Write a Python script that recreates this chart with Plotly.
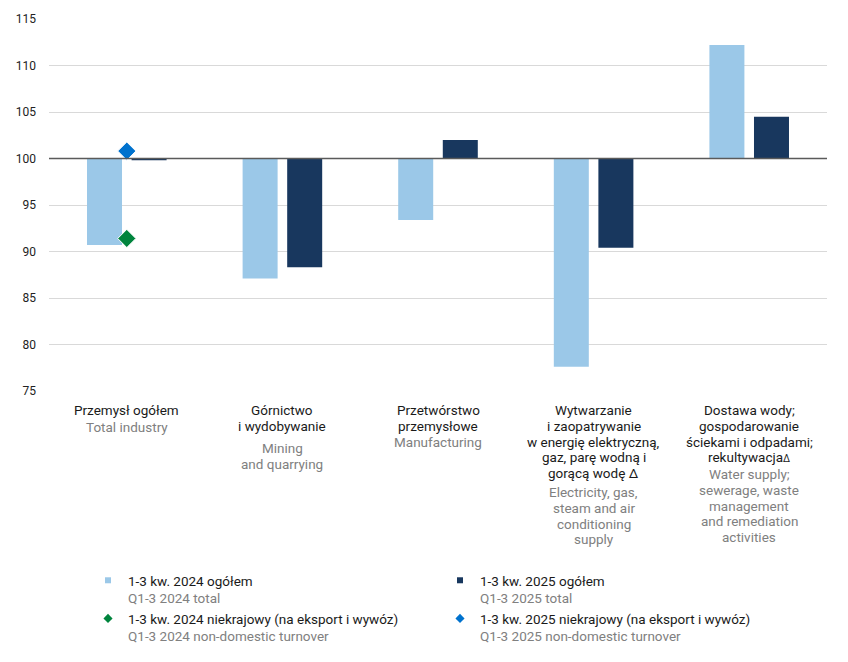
import plotly.graph_objects as go

# ---------------- data ----------------
categories = ["Przemysł ogółem", "Górnictwo", "Przetwórstwo", "Wytwarzanie", "Dostawa wody"]
total_2024 = [90.7, 87.1, 93.4, 77.6, 112.2]
total_2025 = [99.8, 88.3, 102.0, 90.4, 104.5]
nondom_2024 = [91.4, None, None, None, None]
nondom_2025 = [100.8, None, None, None, None]
base_value = 100
y_ticks = [75, 80, 85, 90, 95, 100, 105, 110, 115]

labels_pl = [
    ["Przemysł ogółem"],
    ["Górnictwo", "i wydobywanie"],
    ["Przetwórstwo", "przemysłowe"],
    ["Wytwarzanie", "i zaopatrywanie", "w energię elektryczną,", "gaz, parę wodną i", "gorącą wodę Δ"],
    ["Dostawa wody;", "gospodarowanie", "ściekami i odpadami;", "rekultywacja<span style='font-size:10px'>Δ</span>"],
]
labels_en = [
    ["Total industry"],
    ["Mining", "and quarrying"],
    ["Manufacturing"],
    ["Electricity, gas,", "steam and air", "conditioning", "supply"],
    ["Water supply;", "sewerage, waste", "management", "and remediation", "activities"],
]
legend_pl = ["1-3 kw. 2024 ogółem", "1-3 kw. 2025 ogółem",
             "1-3 kw. 2024 niekrajowy (na eksport i wywóz)", "1-3 kw. 2025 niekrajowy (na eksport i wywóz)"]
legend_en = ["Q1-3 2024 total", "Q1-3 2025 total",
             "Q1-3 2024 non-domestic turnover", "Q1-3 2025 non-domestic turnover"]

# ---------------- style ----------------
C_LIGHT = "#9BC8E8"
C_DARK = "#18375E"
C_GREEN = "#00843D"
C_BLUE = "#0072CE"
C_TEXT = "#1a1a1a"
C_GREY = "#808080"
FONT = "Roboto"

OFF = 8  # page body margin
W, H = 848 - 2 * OFF, 662 - 2 * OFF
PLOT_LEFT, PLOT_RIGHT, PLOT_TOP, PLOT_BOTTOM = 49 - OFF, 827 - OFF, 19 - OFF, 391 - OFF
ML, MR, MT, MB = PLOT_LEFT, W - PLOT_RIGHT, PLOT_TOP, H - PLOT_BOTTOM
PW, PH = PLOT_RIGHT - PLOT_LEFT, PLOT_BOTTOM - PLOT_TOP

fig = go.Figure()

fig.add_trace(go.Bar(
    x=categories, y=[v - base_value for v in total_2024], base=base_value,
    marker=dict(color=C_LIGHT, line=dict(width=0)), showlegend=False,
    name=legend_pl[0], hovertemplate="%{x}: %{customdata}<extra></extra>", customdata=total_2024))
fig.add_trace(go.Bar(
    x=categories, y=[v - base_value for v in total_2025], base=base_value,
    marker=dict(color=C_DARK, line=dict(width=0)), showlegend=False,
    name=legend_pl[1], hovertemplate="%{x}: %{customdata}<extra></extra>", customdata=total_2025))
fig.add_trace(go.Scatter(
    x=categories, y=nondom_2024, mode="markers", showlegend=False, name=legend_pl[2],
    marker=dict(symbol="diamond", size=14, color=C_GREEN, line=dict(color="white", width=1))))
fig.add_trace(go.Scatter(
    x=categories, y=nondom_2025, mode="markers", showlegend=False, name=legend_pl[3],
    marker=dict(symbol="diamond", size=14, color=C_BLUE, line=dict(color="white", width=1))))

# legend-only entries
leg_markers = [("square", 6, C_LIGHT), ("square", 6, C_DARK), ("diamond", 7, C_GREEN), ("diamond", 7, C_BLUE)]
for (sym, sz, col), pl, en in zip(leg_markers, legend_pl, legend_en):
    fig.add_trace(go.Scatter(
        x=[None], y=[None], mode="markers",
        name=f"{pl}<br><span style='color:{C_GREY}'>{en}</span>",
        marker=dict(symbol=sym, size=sz, color=col),
        hoverinfo="skip"))

# reference line at 100
fig.add_shape(type="line", xref="paper", yref="y", x0=0, x1=1, y0=base_value, y1=base_value,
              line=dict(color="#5a5a5a", width=1.5), layer="above")

# category labels (line by line), positions in window pixels
LINE = 15.8
pl_start = 410
en_start = [426.5, 448, 442, 492, 474]
annotations = []
for cat, pl_lines, en_lines, es in zip(categories, labels_pl, labels_en, en_start):
    for i, t in enumerate(pl_lines):
        annotations.append(dict(
            x=cat, xref="x", y=0, yref="paper", yanchor="middle", xanchor="center",
            yshift=-(pl_start - OFF + i * LINE - PLOT_BOTTOM), text=t, showarrow=False,
            font=dict(family=FONT, size=13.5, color=C_TEXT)))
    for i, t in enumerate(en_lines):
        annotations.append(dict(
            x=cat, xref="x", y=0, yref="paper", yanchor="middle", xanchor="center",
            yshift=-(es - OFF + i * LINE - PLOT_BOTTOM), text=t, showarrow=False,
            font=dict(family=FONT, size=13.5, color=C_GREY)))

fig.update_layout(
    width=W, height=H,
    margin=dict(l=ML, r=MR, t=MT, b=MB, pad=0, autoexpand=False),
    paper_bgcolor="white", plot_bgcolor="white",
    barmode="group", bargap=0.427, bargroupgap=0.215,
    font=dict(family=FONT, size=13, color=C_TEXT),
    xaxis=dict(showticklabels=False, showgrid=False, zeroline=False, showline=False, ticks="",
               fixedrange=True),
    yaxis=dict(range=[75, 115], tickvals=y_ticks, showgrid=True, gridcolor="#d9d9d9", gridwidth=1,
               zeroline=False, showline=False, ticks="", ticklabelstandoff=12,
               tickfont=dict(family=FONT, size=12, color="#222222"), fixedrange=True),
    legend=dict(orientation="h", x=(88 - OFF - PLOT_LEFT) / PW, xanchor="left",
                y=-(565 - OFF - PLOT_BOTTOM) / PH, yanchor="top",
                entrywidth=307, entrywidthmode="pixels", valign="top",
                font=dict(family=FONT, size=13.5, color=C_TEXT),
                bgcolor="rgba(0,0,0,0)", borderwidth=0, tracegroupgap=0,
                itemclick=False, itemdoubleclick=False),
    annotations=annotations,
    showlegend=True,
)

fig.write_html("out.html")
